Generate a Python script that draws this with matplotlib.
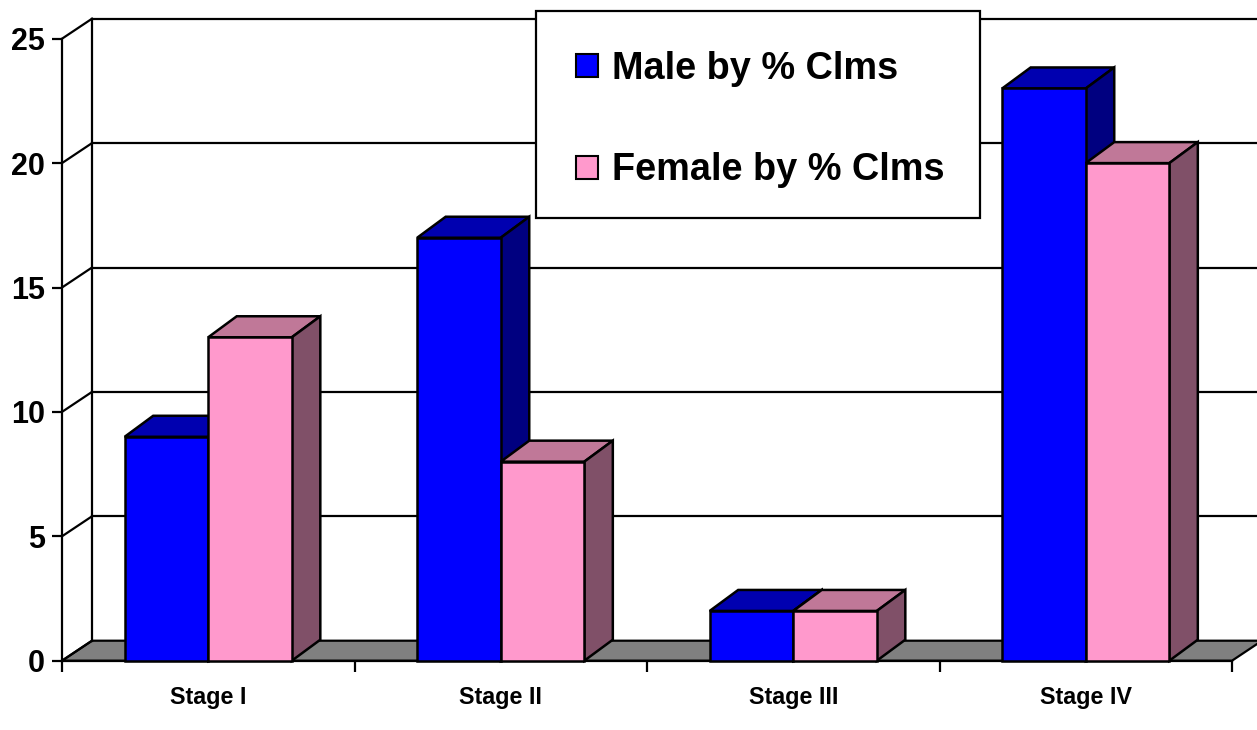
import matplotlib
matplotlib.use("Agg")
import matplotlib.pyplot as plt
from matplotlib.patches import Polygon, Rectangle
from matplotlib.lines import Line2D

plt.rcParams['font.family'] = ['Liberation Sans', 'DejaVu Sans']
plt.rcParams['font.weight'] = 'bold'

# ---- data ----
stages = ['Stage I', 'Stage II', 'Stage III', 'Stage IV']
male = [9, 17, 2, 23]
female = [13, 8, 2, 20]
series_names = ['Male by % Clms', 'Female by % Clms']
value_ticks = [0, 5, 10, 15, 20, 25]

# ---- colours (front, top, side) ----
blue = ('#0000FF', '#0000B0', '#000080')
pink = ('#FF99CC', '#C07898', '#805068')

W, H, DPI = 1257, 730, 100
fig = plt.figure(figsize=(W / DPI, H / DPI), dpi=DPI)
fig.patch.set_facecolor('white')

# front plane of the pseudo-3D plot
left_px, right_px = 62, 1232
bottom_px, top_px = 660.7, 38.7
ax = fig.add_axes([left_px / W, (H - bottom_px) / H,
                   (right_px - left_px) / W, (bottom_px - top_px) / H])
ax.set_facecolor('none')
ymax = value_ticks[-1]
ax.set_xlim(0, len(stages))
ax.set_ylim(0, ymax)

px_x = (right_px - left_px) / len(stages)      # pixels per category
px_y = (bottom_px - top_px) / ymax             # pixels per unit

# depth offsets (in data units)
wall_dx, wall_dy = 30 / px_x, 20 / px_y
bar_dx, bar_dy = 28.5 / px_x, 21 / px_y

n = len(stages)
lw_frame = 1.6

# floor
floor = Polygon([(0, 0), (n, 0), (n + wall_dx, wall_dy), (wall_dx, wall_dy)],
                closed=True, facecolor='#808080', edgecolor='black',
                linewidth=lw_frame, clip_on=False, zorder=1)
ax.add_patch(floor)

# back-wall gridlines and side-wall diagonals
for v in value_ticks[1:]:
    if v == ymax:
        continue
    ax.add_line(Line2D([wall_dx, n + wall_dx + 0.2], [v + wall_dy, v + wall_dy],
                       color='black', lw=lw_frame, clip_on=False, zorder=1.5))
for v in value_ticks:
    ax.add_line(Line2D([0, wall_dx], [v, v + wall_dy], color='black',
                       lw=lw_frame, clip_on=False, zorder=1.5))
# back vertical edge of the side wall
ax.add_line(Line2D([wall_dx, wall_dx], [wall_dy, ymax + wall_dy], color='black',
                   lw=lw_frame, clip_on=False, zorder=1.5))
# top edge of the back wall (stays above the legend box)
ax.add_line(Line2D([wall_dx, n + wall_dx + 0.2], [ymax + wall_dy, ymax + wall_dy],
                   color='black', lw=lw_frame, clip_on=False, zorder=6))

# bars
bar_w = 2 / 7
gap = (1 - 2 * bar_w) / 2
edge_lw = 1.8


def draw_bar(x, v, colors, z):
    front, topc, side = colors
    top = Polygon([(x, v), (x + bar_w, v), (x + bar_w + bar_dx, v + bar_dy),
                   (x + bar_dx, v + bar_dy)], closed=True, facecolor=topc,
                  edgecolor='black', linewidth=edge_lw, clip_on=False, zorder=z)
    sidep = Polygon([(x + bar_w, 0), (x + bar_w + bar_dx, bar_dy),
                     (x + bar_w + bar_dx, v + bar_dy), (x + bar_w, v)], closed=True,
                    facecolor=side, edgecolor='black', linewidth=edge_lw,
                    clip_on=False, zorder=z)
    frontp = Rectangle((x, 0), bar_w, v, facecolor=front, edgecolor='black',
                       linewidth=edge_lw, clip_on=False, zorder=z + 0.01)
    for p in (top, sidep, frontp):
        ax.add_patch(p)


z = 3
for i in range(n):
    draw_bar(i + gap, male[i], blue, z)
    z += 0.1
    draw_bar(i + gap + bar_w, female[i], pink, z)
    z += 0.1

# axes styling
for s in ('top', 'right'):
    ax.spines[s].set_visible(False)
for s in ('left', 'bottom'):
    ax.spines[s].set_linewidth(lw_frame)
    ax.spines[s].set_zorder(2)

ax.set_yticks(value_ticks)
ax.set_yticklabels([str(v) for v in value_ticks], fontsize=22, fontweight='bold')
ax.tick_params(axis='y', direction='out', length=7.2, width=lw_frame, pad=5)

ax.set_xticks(range(n + 1))
ax.set_xticklabels([])
ax.set_xticks([i + 0.5 for i in range(n)], minor=True)
ax.set_xticklabels(stages, minor=True, fontsize=16.8, fontweight='bold')
ax.tick_params(axis='x', which='major', direction='out', length=8, width=lw_frame)
ax.tick_params(axis='x', which='minor', length=0, pad=18)

# legend box
fx = lambda px: px / W
fy = lambda py: (H - py) / H
box = Rectangle((fx(535.7), fy(218.3)), fx(980) - fx(535.7), fy(11) - fy(218.3),
                transform=fig.transFigure, facecolor='white', edgecolor='black',
                linewidth=1.6, zorder=5)
fig.patches.append(box)
for name, colors, (sq_top, base) in zip(series_names, (blue, pink),
                                         ((54.3, 79), (156, 180))):
    sq = Rectangle((fx(575.7), fy(sq_top + 23)), fx(598.3) - fx(575.7),
                   fy(sq_top) - fy(sq_top + 23), transform=fig.transFigure,
                   facecolor=colors[0], edgecolor='black', linewidth=1.5, zorder=5.5)
    fig.patches.append(sq)
    fig.text(fx(611.7), fy(base), name, fontsize=27.3, fontweight='bold',
             va='baseline', ha='left', zorder=5.6)

fig.savefig('out.png', dpi=DPI, facecolor='white')
